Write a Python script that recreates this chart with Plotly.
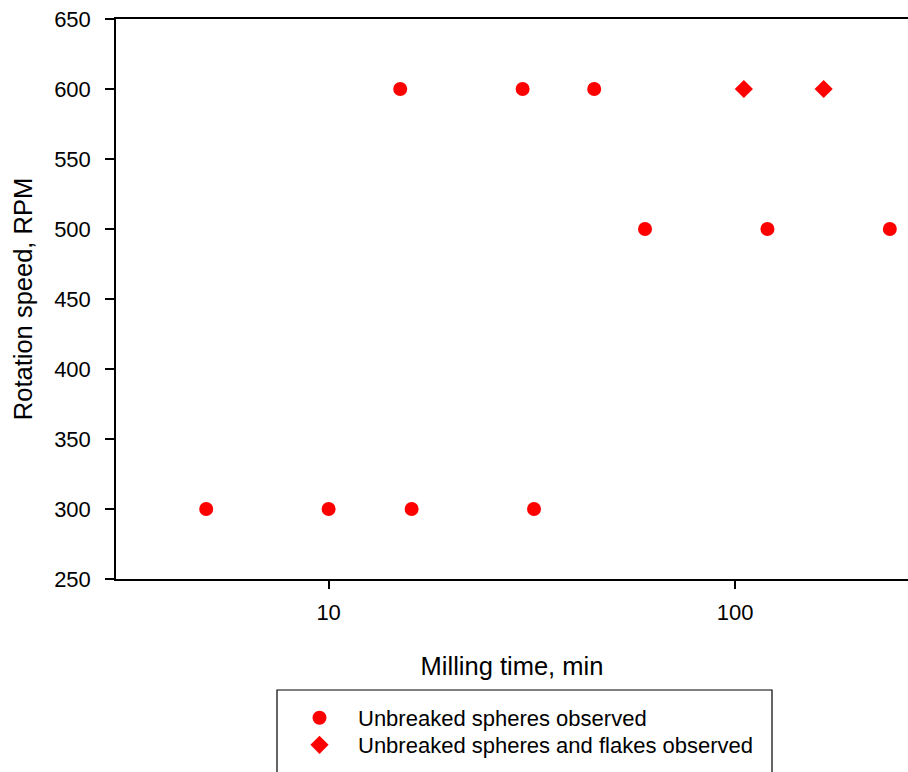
import numpy as np
import plotly.graph_objects as go

# Milling time (min) and rotation speed (RPM)
spheres_time = [5, 10, 16, 32, 15, 30, 45, 60, 120, 240]
spheres_rpm = [300, 300, 300, 300, 600, 600, 600, 500, 500, 500]

flakes_time = [105, 165]
flakes_rpm = [600, 600]

x_ticks = [10, 100]
y_ticks = [250, 300, 350, 400, 450, 500, 550, 600, 650]

FONT = "Liberation Sans, Arial, sans-serif"
W, H = 908, 772
L, R, T, B = 116, 0, 19, 193

fig = go.Figure()
fig.add_trace(go.Scatter(
    x=spheres_time, y=spheres_rpm, mode="markers",
    name="Unbreaked spheres observed", legend="legend",
    marker=dict(symbol="circle", size=14, color="#ff0000", line=dict(width=0)),
))
fig.add_trace(go.Scatter(
    x=flakes_time, y=flakes_rpm, mode="markers",
    name="Unbreaked spheres and flakes observed", legend="legend2",
    marker=dict(symbol="diamond", size=14, color="#ff0000", line=dict(width=0)),
))

pw = W - L - R
ph = H - T - B


def px_x(p):
    return (p - L) / pw


def px_y(p):
    return (H - B - p) / ph


# legend frame
fig.add_shape(type="rect", xref="paper", yref="paper",
              x0=px_x(277), x1=px_x(772), y0=px_y(790), y1=px_y(690),
              line=dict(color="black", width=1.2), fillcolor="rgba(0,0,0,0)")

leg_common = dict(
    xanchor="left", yanchor="middle",
    bgcolor="rgba(0,0,0,0)", borderwidth=0,
    font=dict(size=22, family=FONT, color="black"),
    itemwidth=67, tracegroupgap=0,
)

fig.update_layout(
    width=W, height=H,
    margin=dict(l=L, r=R, t=T, b=B, pad=0),
    paper_bgcolor="white", plot_bgcolor="white",
    font=dict(family=FONT, color="black"),
    showlegend=True,
    legend=dict(x=px_x(281), y=px_y(718), **leg_common),
    legend2=dict(x=px_x(281), y=px_y(745), **leg_common),
    xaxis=dict(
        type="log", range=[np.log10(3.0), np.log10(266)],
        tickvals=x_ticks, ticktext=[str(v) for v in x_ticks],
        ticks="outside", ticklen=8, tickwidth=1.5, tickcolor="black",
        showline=True, linecolor="black", linewidth=1.5, mirror=True,
        showgrid=False, zeroline=False,
        tickfont=dict(size=22, family=FONT),
        ticklabelstandoff=5,
        title=dict(text="Milling time, min", font=dict(size=25.5, family=FONT), standoff=33),
    ),
    yaxis=dict(
        range=[250, 650], tickvals=y_ticks,
        ticks="outside", ticklen=9, tickwidth=1.5, tickcolor="black",
        showline=True, linecolor="black", linewidth=1.5,
        showgrid=False, zeroline=False,
        tickfont=dict(size=22, family=FONT),
        ticklabelstandoff=10,
        title=dict(text="Rotation speed, RPM", font=dict(size=25.5, family=FONT), standoff=14),
    ),
)

fig.write_html("out.html")
